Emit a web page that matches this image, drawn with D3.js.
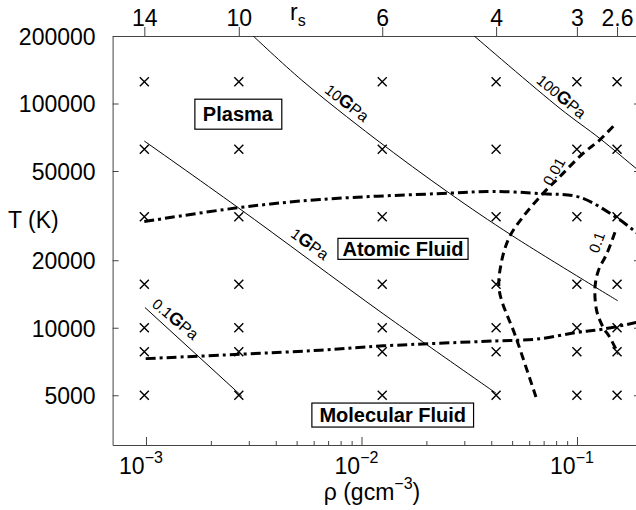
<!DOCTYPE html>
<html><head><meta charset="utf-8">
<script src="https://cdn.jsdelivr.net/npm/d3@7"></script>
<style>
body{margin:0;background:#fff}
svg{display:block;font-family:"Liberation Sans",Arial,Helvetica,sans-serif}
</style>
</head><body>
<svg id="chart" width="636" height="510"></svg>
<script>
// ---------------- data ----------------
const RS_CONST = 2.696;                 // hydrogen: rho(g/cm^3) = 2.696 / rs^3
const rsTicks   = [14, 10, 6, 4, 3, 2.6];
const rhoTicks  = [1e-3, 1e-2, 1e-1];
const rhoMinor  = [2e-3,3e-3,4e-3,5e-3,6e-3,7e-3,8e-3,9e-3,2e-2,3e-2,4e-2,5e-2,6e-2,7e-2,8e-2,9e-2];
const tempTicks = [5000, 10000, 20000, 50000, 100000, 200000];

// simulation grid (crosses)
const gridRs = [14, 10, 6, 4, 3, 2.6];
const gridT  = [125000, 62500, 31250, 15625, 10000, 7812.5, 5000];

// isobars
const iso01Rho  = [9.89e-4, 2.78e-3];
const iso01T    = [12310, 4960];
const iso1Rho   = [9.82e-4, 2.66e-3, 1.261e-2, 4.22e-2];
const iso1T     = [68030, 34470, 11540, 5100];
const iso10Rho  = [3.146e-3, 5.28e-3, 1.155e-2, 2.556e-2, 5.0e-2, 0.1545];
const iso10T    = [200000, 127100, 69740, 39830, 25760, 13195];
const iso100Rho = [0.03336, 0.0834, 0.1278, 0.1879, 0.2];
const iso100T   = [200000, 95000, 69740, 51370, 49000];

// phase boundaries (dash-dot)
const plasmaRho = [9.82e-4, 2.66e-3, 6.42e-3, 2.556e-2, 4.075e-2, 6.93e-2, 0.1025, 0.1517, 0.1879, 0.2];
const plasmaT   = [29760, 34260, 37330, 39830, 40530, 39580, 38220, 31110, 26660, 25500];
const molRho    = [9.97e-4, 2.73e-3, 6.42e-3, 1.261e-2, 4.221e-2, 6.45e-2, 9.89e-2, 0.1316, 0.1879, 0.2];
const molT      = [7283, 7621, 7940, 8302, 8738, 8892, 9517, 9856, 10550, 10700];

// contours (dashed)
const c001Rho = [0.0645, 0.0521, 0.04361, 0.04442, 0.04851, 0.05598, 0.0693, 0.08278, 0.1063, 0.1269, 0.1517];
const c001T   = [4909, 9042, 14620, 19250, 25320, 31110, 39580, 46950, 59770, 68540, 81640];
const c01Rho  = [0.15, 0.1373, 0.1256, 0.1212, 0.1234, 0.1324, 0.1422, 0.1555];
const c01T    = [26660, 21340, 17970, 15130, 11900, 10020, 9042, 7620];

// annotations
const isoLabelNum = ["0.1", "1", "10", "100"];
const isoLabelRho = [1.32e-3, 5.57e-3, 8.26e-3, 0.0816];
const isoLabelT   = [10470, 22580, 96160, 102900];
const contourLabels = ["0.01", "0.1"];
const contourLabelRho = [0.0821, 0.1302];
const contourLabelT   = [48370, 23580];
const regionNames = ["Plasma", "Atomic Fluid", "Molecular Fluid"];
const regionRho   = [2.67e-3, 0.01558, 0.01396];
const regionT     = [89600, 22480, 4080];

// ---------------- chart ----------------
const svg = d3.select("#chart");
const L = 112.6, R = 640, T0 = 36, B = 445;
const x = d3.scaleLog().domain([7e-4, 0.196]).range([L, R]);
const y = d3.scaleLog().domain([3000, 200000]).range([B, T0]);
const rsScale = d3.scaleLog()
  .domain([Math.cbrt(RS_CONST / 7e-4), Math.cbrt(RS_CONST / 0.196)]).range([L, R]);

svg.append("defs").append("clipPath").attr("id", "plotclip")
  .append("rect").attr("x", L).attr("y", T0).attr("width", R - L).attr("height", B - T0);

const axisColor = "#444";
const fs = 23;

// left axis
const gl = svg.append("g").attr("transform", `translate(${L},0)`)
  .call(d3.axisLeft(y).tickValues(tempTicks).tickSize(-6).tickSizeOuter(0).tickPadding(17).tickFormat(d3.format("d")));
// right axis
const gr = svg.append("g").attr("transform", `translate(${R},0)`)
  .call(d3.axisRight(y).tickValues(tempTicks).tickSize(-6).tickSizeOuter(0).tickFormat(""));
// bottom axis
const gb = svg.append("g").attr("transform", `translate(0,${B})`)
  .call(d3.axisBottom(x).tickValues(rhoTicks).tickSize(-8).tickSizeOuter(0).tickFormat(""));
const gbm = svg.append("g").attr("transform", `translate(0,${B})`)
  .call(d3.axisBottom(x).tickValues(rhoMinor).tickSize(-4).tickSizeOuter(0).tickFormat(""));
gbm.select(".domain").remove();
// top axis (r_s)
const gt = svg.append("g").attr("transform", `translate(0,${T0})`)
  .call(d3.axisTop(rsScale).tickValues(rsTicks).tickSize(9).tickSizeOuter(0).tickPadding(1)
    .tickFormat(d => String(d)));

[gl, gr, gb, gbm, gt].forEach(g => {
  g.selectAll(".domain").attr("stroke", axisColor);
  g.selectAll(".tick line").attr("stroke", axisColor);
  g.selectAll("text").attr("font-size", fs).attr("font-family", null).attr("fill", "#000");
});
gl.selectAll("text").attr("dy", "0.36em");

// bottom tick labels 10^n
rhoTicks.forEach(v => {
  const t = svg.append("text").attr("x", x(v) - 5).attr("y", 474)
    .attr("text-anchor", "middle").attr("font-size", fs);
  t.append("tspan").text("10");
  t.append("tspan").attr("font-size", 16).attr("dy", -11).text("\u2212" + Math.round(-Math.log10(v)));
});

// axis titles
const tt = svg.append("text").attr("x", 372).attr("y", 500).attr("text-anchor", "middle").attr("font-size", fs);
tt.append("tspan").text("\u03c1 (gcm");
tt.append("tspan").attr("font-size", 16).attr("dy", -11).text("\u22123");
tt.append("tspan").attr("dy", 11).text(")");

svg.append("text").attr("x", 8).attr("y", 228).attr("font-size", fs).text("T (K)");

const rt = svg.append("text").attr("x", 290).attr("y", 20).attr("font-size", fs);
rt.append("tspan").text("r");
rt.append("tspan").attr("font-size", 16).attr("dy", 6).text("s");

// plot content
const plot = svg.append("g").attr("clip-path", "url(#plotclip)");
const line = d3.line().x(d => x(d[0])).y(d => y(d[1])).curve(d3.curveCatmullRom.alpha(0.5));
const zip = (a, b) => a.map((v, i) => [v, b[i]]);

// crosses
const crossPts = [];
gridT.forEach(t => gridRs.forEach(r => crossPts.push([RS_CONST / Math.pow(r, 3), t])));
plot.selectAll("path.cross").data(crossPts).join("path").attr("class", "cross")
  .attr("d", d => { const cx = x(d[0]), cy = y(d[1]), s = 4.5;
    return `M${cx - s},${cy - s}L${cx + s},${cy + s}M${cx - s},${cy + s}L${cx + s},${cy - s}`; })
  .attr("stroke", "#000").attr("stroke-width", 1.4).attr("fill", "none");

// isobars
[[iso01Rho, iso01T], [iso1Rho, iso1T], [iso10Rho, iso10T], [iso100Rho, iso100T]].forEach(([a, b]) => {
  plot.append("path").attr("d", line(zip(a, b))).attr("fill", "none")
    .attr("stroke", "#000").attr("stroke-width", 1);
});
// dash-dot boundaries
[[plasmaRho, plasmaT], [molRho, molT]].forEach(([a, b]) => {
  plot.append("path").attr("d", line(zip(a, b))).attr("fill", "none")
    .attr("stroke", "#000").attr("stroke-width", 3).attr("stroke-dasharray", "10,4,3,4");
});
// dashed contours
[[c001Rho, c001T], [c01Rho, c01T]].forEach(([a, b]) => {
  plot.append("path").attr("d", line(zip(a, b))).attr("fill", "none")
    .attr("stroke", "#000").attr("stroke-width", 3).attr("stroke-dasharray", "8,5");
});

// isobar labels
const isoAngles = [40, 36, 38, 40];
isoLabelNum.forEach((n, i) => {
  const px = x(isoLabelRho[i]), py = y(isoLabelT[i]);
  const t = svg.append("text").attr("text-anchor", "middle")
    .attr("transform", `translate(${px},${py}) rotate(${isoAngles[i]})`);
  t.append("tspan").attr("font-size", 15).text(n);
  t.append("tspan").attr("font-size", 18).attr("font-weight", "bold").text("G");
  t.append("tspan").attr("font-size", 16).text("Pa");
});
// contour labels
const cAngles = [-60, -70];
contourLabels.forEach((n, i) => {
  svg.append("text").attr("text-anchor", "middle").attr("font-size", 15)
    .attr("transform", `translate(${x(contourLabelRho[i])},${y(contourLabelT[i])}) rotate(${cAngles[i]})`)
    .text(n);
});

// region labels in boxes
const boxPadX = [8, 4.5, 7.5], boxH = [30, 21, 24];
regionNames.forEach((n, i) => {
  const cx = x(regionRho[i]), cy = y(regionT[i]);
  const g = svg.append("g");
  const rect = g.append("rect");
  const t = g.append("text").attr("x", cx).attr("y", cy + 7).attr("text-anchor", "middle")
    .attr("font-size", 20).attr("font-weight", "bold").text(n);
  const bb = t.node().getBBox();
  rect.attr("x", bb.x - boxPadX[i]).attr("width", bb.width + 2 * boxPadX[i])
    .attr("y", cy - boxH[i] / 2).attr("height", boxH[i])
    .attr("fill", "#fff").attr("stroke", "#000").attr("stroke-width", 1.2);
});
</script>
</body></html>
